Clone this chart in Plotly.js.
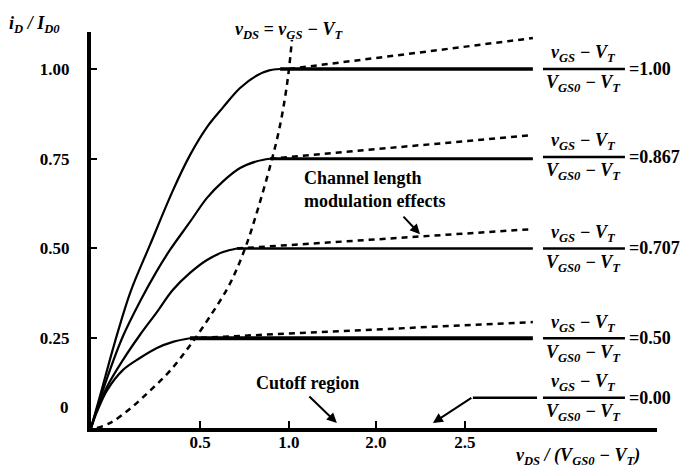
<!DOCTYPE html>
<html><head><meta charset="utf-8">
<script src="https://cdn.plot.ly/plotly-3.0.1.min.js"></script>
<style>html,body{margin:0;padding:0;background:#fff}#chart{width:695px;height:469px}</style>
</head><body><div id="chart"></div>
<script>
// Values (x = vDS/(VGS0-VT), y = iD/ID0)
const curve100X = [0, 0.05, 0.121, 0.2, 0.298, 0.414, 0.5, 0.586, 0.667, 0.753, 0.838, 0.9, 0.955];
const curve100Y = [0, 0.098, 0.24, 0.38, 0.51, 0.662, 0.76, 0.838, 0.893, 0.947, 0.982, 0.996, 1.0];
const curve075X = [0, 0.06, 0.157, 0.25, 0.33, 0.399, 0.5, 0.586, 0.667, 0.753, 0.838, 0.904];
const curve075Y = [0, 0.105, 0.25, 0.355, 0.435, 0.496, 0.574, 0.641, 0.687, 0.724, 0.743, 0.75];
const curve050X = [0, 0.03, 0.081, 0.162, 0.247, 0.333, 0.414, 0.5, 0.586, 0.667, 0.737];
const curve050Y = [0, 0.05, 0.115, 0.19, 0.259, 0.323, 0.385, 0.432, 0.468, 0.49, 0.5];
const curve025X = [0, 0.03, 0.081, 0.162, 0.247, 0.333, 0.414, 0.5];
const curve025Y = [0, 0.045, 0.105, 0.162, 0.195, 0.223, 0.24, 0.25];
const boundaryX = [0.03, 0.1, 0.2, 0.3, 0.4, 0.5, 0.6, 0.7, 0.778, 0.843, 0.91, 0.95, 0.98, 1.0, 1.015];
const boundaryY = [0, 0.015, 0.055, 0.105, 0.16, 0.23, 0.31, 0.40, 0.50, 0.61, 0.74, 0.83, 0.92, 1.0, 1.081];
const levels = [1.00, 0.75, 0.50, 0.25];
const kneeX = [0.955, 0.904, 0.737, 0.50];
const modStartX = [1.0, 0.904, 0.737, 0.50];
const lineEndX = [2.232, 2.232, 2.232, 2.232];
const modEndY = [1.086, 0.816, 0.554, 0.295];
const ratioText = ["1.00", "0.867", "0.707", "0.50", "0.00"];
const ratioLabelY = [1.00, 0.755, 0.50, 0.25, 0.084];
const xTickVals = [0.551, 1.0, 1.439, 1.889];
const xTickText = ["0.5", "1.0", "2.0", "2.5"];
const yTickVals = [0.25, 0.50, 0.75, 1.00];
const yTickText = ["0.25", "0.50", "0.75", "1.00"];

const FONT = "Liberation Serif";
const black = "#000";
const traces = [];
const curves = [[curve100X, curve100Y], [curve075X, curve075Y], [curve050X, curve050Y], [curve025X, curve025Y]];
curves.forEach(c => traces.push({x: c[0], y: c[1], mode: "lines", line: {color: black, width: 2.2, shape: "spline", smoothing: 1}, hoverinfo: "skip"}));
const flatW = [3.5, 3, 2.5, 4];
levels.forEach((lv, i) => {
  traces.push({x: [kneeX[i], lineEndX[i]], y: [lv, lv], mode: "lines", line: {color: black, width: flatW[i]}, hoverinfo: "skip"});
  traces.push({x: [modStartX[i], lineEndX[i]], y: [lv, modEndY[i]], mode: "lines", line: {color: black, width: 2.5, dash: "6px,5px"}, hoverinfo: "skip"});
});
traces.push({x: boundaryX, y: boundaryY, mode: "lines", line: {color: black, width: 2.5, dash: "6px,5px", shape: "spline", smoothing: 1}, hoverinfo: "skip"});

const f = (size, extra) => Object.assign({family: FONT, size: size, color: black, weight: "bold"}, extra || {});
const ann = [];
const shapes = [];
ratioText.forEach((t, i) => {
  const y = ratioLabelY[i];
  ann.push({x: 2.49, y: y, xref: "x", yref: "y", text: "v<sub>GS</sub> − V<sub>T</sub>", showarrow: false, yshift: 15, font: f(18, {style: "italic"}), xanchor: "center", yanchor: "middle"});
  ann.push({x: 2.49, y: y, xref: "x", yref: "y", text: "V<sub>GS0</sub> − V<sub>T</sub>", showarrow: false, yshift: -15, font: f(18, {style: "italic"}), xanchor: "center", yanchor: "middle"});
  ann.push({x: 2.705, y: y, xref: "x", yref: "y", text: "=" + t, showarrow: false, font: f(18), xanchor: "left", yanchor: "middle"});
  shapes.push({type: "line", xref: "x", yref: "y", x0: 2.283, x1: 2.697, y0: y, y1: y, line: {color: black, width: 2.5}});
});
// leader line for the 0.00 label
shapes.push({type: "line", xref: "x", yref: "y", x0: 1.929, x1: 2.253, y0: 0.084, y1: 0.084, line: {color: black, width: 2.5}});
ann.push({x: 1.727, y: 0.014, xref: "x", yref: "y", ax: 40, ay: -26, text: "", showarrow: true, arrowhead: 2, arrowsize: 1, arrowwidth: 2, arrowcolor: black});
ann.push({x: 1.242, y: 0.014, xref: "x", yref: "y", ax: -29, ay: -28, text: "", showarrow: true, arrowhead: 2, arrowsize: 1, arrowwidth: 2, arrowcolor: black});
ann.push({x: 1.662, y: 0.54, xref: "x", yref: "y", ax: -18, ay: -19, text: "", showarrow: true, arrowhead: 2, arrowsize: 1, arrowwidth: 2, arrowcolor: black});
ann.push({x: 1.066, y: 0.663, xref: "x", yref: "y", text: "Channel length<br>modulation effects", showarrow: false, align: "left", xanchor: "left", yanchor: "middle", font: f(18)});
ann.push({x: 1.096, y: 0.125, xref: "x", yref: "y", text: "Cutoff region", showarrow: false, xanchor: "center", yanchor: "middle", font: f(18)});
ann.push({x: 0.35, y: 1.005, xref: "paper", yref: "paper", text: "v<sub>DS</sub> = v<sub>GS</sub> − V<sub>T</sub>", showarrow: false, xanchor: "center", yanchor: "middle", font: f(18, {style: "italic"})});
ann.push({x: -0.099, y: 1.018, xref: "paper", yref: "paper", text: "i<sub>D</sub> / I<sub>D0</sub>", showarrow: false, xanchor: "center", yanchor: "middle", font: f(18, {style: "italic"})});
ann.push({x: 0.86, y: -0.073, xref: "paper", yref: "paper", text: "v<sub>DS</sub> / (V<sub>GS0</sub> − V<sub>T</sub>)", showarrow: false, xanchor: "center", yanchor: "middle", font: f(18, {style: "italic"})});
ann.push({x: 0, y: 0.056, xref: "paper", yref: "y", xshift: -20, text: "0", showarrow: false, xanchor: "right", yanchor: "middle", font: f(17)});

const layout = {
  width: 695, height: 469,
  margin: {l: 91, r: 38, t: 32, b: 41, pad: 0},
  paper_bgcolor: "#fff", plot_bgcolor: "#fff",
  showlegend: false,
  xaxis: {range: [0, 2.859], showline: true, linewidth: 4, linecolor: black, ticks: "inside", ticklen: 7, tickwidth: 2, tickcolor: black,
          tickvals: xTickVals, ticktext: xTickText, showgrid: false, zeroline: false, tickfont: f(17), ticklabelstandoff: -4, fixedrange: true},
  yaxis: {range: [0, 1.103], showline: true, linewidth: 4, linecolor: black, ticks: "inside", ticklen: 6, tickwidth: 2, tickcolor: black,
          tickvals: yTickVals, ticktext: yTickText, showgrid: false, zeroline: false, tickfont: f(17), ticklabelstandoff: 14, fixedrange: true},
  annotations: ann,
  shapes: shapes
};
Plotly.newPlot("chart", traces, layout, {displayModeBar: false, staticPlot: true});
</script>
</body></html>
